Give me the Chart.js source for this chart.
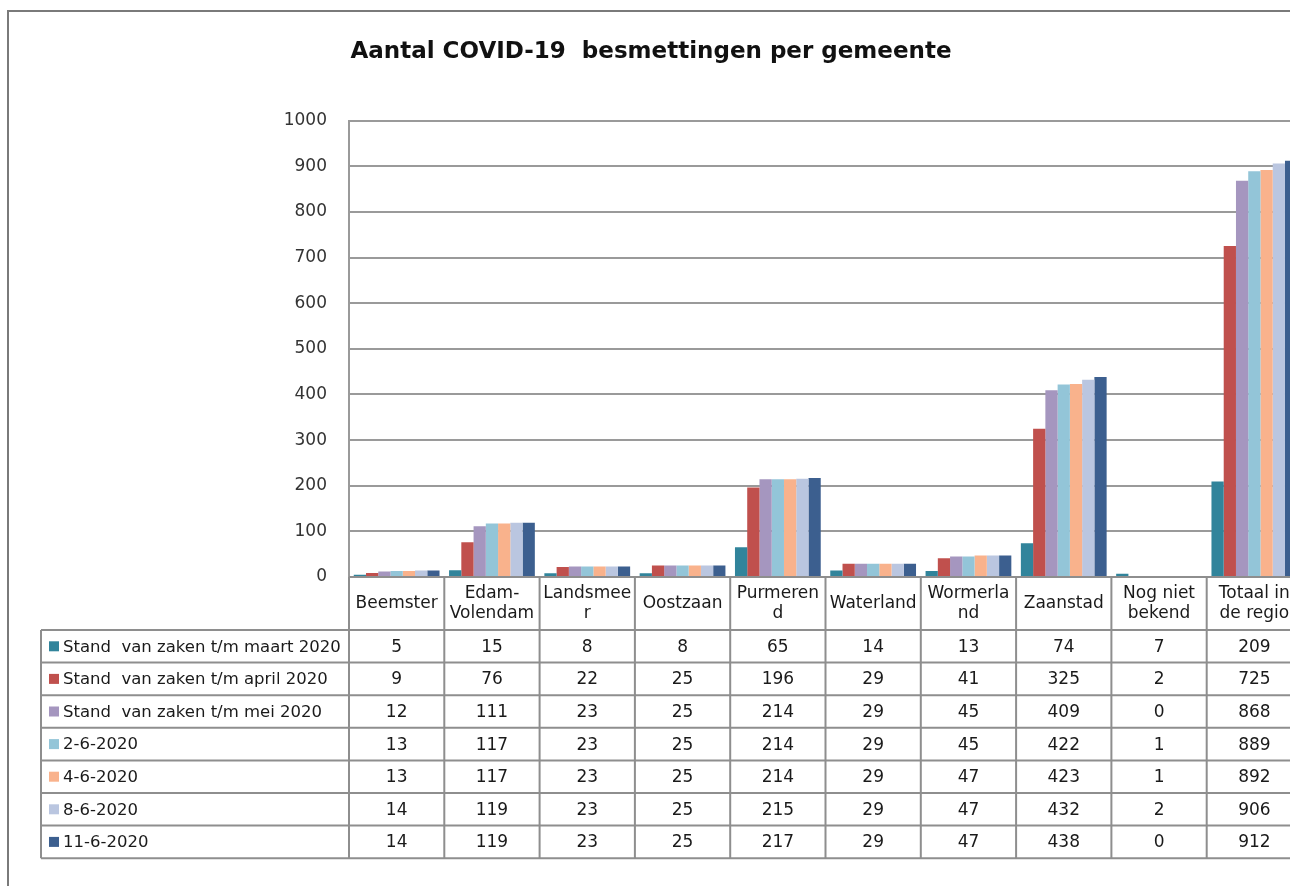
<!DOCTYPE html>
<html>
<head>
<meta charset="utf-8">
<title>Aantal COVID-19 besmettingen per gemeente</title>
<script src="https://cdn.jsdelivr.net/npm/chart.js@4/dist/chart.umd.min.js"></script>
<style>
    html, body { margin: 0; padding: 0; background: #fff; overflow: hidden; }
    #wrap { width: 1310px; height: 886px; }
</style>
</head>
<body>
<div id="wrap"><canvas id="chart" width="1310" height="886"></canvas></div>
<script>
// Gemeenten (with the line breaks as they appear in the data table)
const categories = [
    ['Beemster'], ['Edam-', 'Volendam'], ['Landsmee', 'r'], ['Oostzaan'],
    ['Purmeren', 'd'], ['Waterland'], ['Wormerla', 'nd'], ['Zaanstad'],
    ['Nog niet', 'bekend'], ['Totaal in', 'de regio']
];

const seriesNames = [
    'Stand  van zaken t/m maart 2020',
    'Stand  van zaken t/m april 2020',
    'Stand  van zaken t/m mei 2020',
    '2-6-2020',
    '4-6-2020',
    '8-6-2020',
    '11-6-2020'
];

const maart   = [5, 15, 8, 8, 65, 14, 13, 74, 7, 209];
const april   = [9, 76, 22, 25, 196, 29, 41, 325, 2, 725];
const mei     = [12, 111, 23, 25, 214, 29, 45, 409, 0, 868];
const juni2   = [13, 117, 23, 25, 214, 29, 45, 422, 1, 889];
const juni4   = [13, 117, 23, 25, 214, 29, 47, 423, 1, 892];
const juni8   = [14, 119, 23, 25, 215, 29, 47, 432, 2, 906];
const juni11  = [14, 119, 23, 25, 217, 29, 47, 438, 0, 912];

const yTicks = [0, 100, 200, 300, 400, 500, 600, 700, 800, 900, 1000];
const yTickLabels = ['0', '100', '200', '300', '400', '500', '600', '700', '800', '900', '1000'];

const colors = ['#31849B', '#C0504D', '#A596BF', '#93C5D8', '#F9B28C', '#BAC6E0', '#3C5F8F'];

const seriesValues = [maart, april, mei, juni2, juni4, juni8, juni11];

// Excel-like grey lines
const LINE = '#8e8e8e';
const CELL_FONT = '17px "DejaVu Sans", sans-serif';
const LEGEND_FONT = '16.5px "DejaVu Sans", sans-serif';

// Outer chart frame (top + left border of the embedded object)
const framePlugin = {
    id: 'frame',
    beforeDraw(chart) {
        const ctx = chart.ctx;
        ctx.save();
        ctx.fillStyle = '#fff';
        ctx.fillRect(0, 0, chart.width, chart.height);
        ctx.strokeStyle = '#7a7a7a';
        ctx.lineWidth = 2;
        ctx.beginPath();
        ctx.moveTo(8, chart.height + 5);
        ctx.lineTo(8, 11);
        ctx.lineTo(chart.width + 5, 11);
        ctx.stroke();
        ctx.restore();
    }
};

// Data table under the plot, columns taken from the x scale
const dataTablePlugin = {
    id: 'dataTable',
    afterDraw(chart) {
        const ctx = chart.ctx;
        const xs = chart.scales.x;
        const area = chart.chartArea;
        const n = chart.data.labels.length;
        const colW = (area.right - area.left) / n;
        const headTop = area.bottom;
        const headBottom = headTop + 53;
        const rowH = 32.6;
        const nRows = chart.data.datasets.length;
        const tableBottom = headBottom + rowH * nRows;
        const legendLeft = 41;

        ctx.save();
        ctx.strokeStyle = LINE;
        ctx.lineWidth = 2;

        // horizontal lines
        ctx.beginPath();
        ctx.moveTo(area.left, headTop);
        ctx.lineTo(area.right, headTop);
        for (let r = 0; r <= nRows; r++) {
            const y = headBottom + r * rowH;
            ctx.moveTo(legendLeft, y);
            ctx.lineTo(area.right, y);
        }
        // vertical lines
        ctx.moveTo(legendLeft, headBottom);
        ctx.lineTo(legendLeft, tableBottom);
        for (let i = 0; i <= n; i++) {
            const x = area.left + i * colW;
            ctx.moveTo(x, headTop);
            ctx.lineTo(x, tableBottom);
        }
        ctx.stroke();

        ctx.font = CELL_FONT;
        ctx.fillStyle = '#1a1a1a';
        ctx.textAlign = 'center';
        ctx.textBaseline = 'middle';

        // category header
        chart.data.labels.forEach((lab, i) => {
            const cx = xs.getPixelForValue(i);
            const mid = (headTop + headBottom) / 2;
            if (lab.length === 1) {
                ctx.fillText(lab[0], cx, mid);
            } else {
                ctx.fillText(lab[0], cx, mid - 10);
                ctx.fillText(lab[1], cx, mid + 10);
            }
        });

        // rows: legend key + name + values
        chart.data.datasets.forEach((ds, r) => {
            const cy = headBottom + r * rowH + rowH / 2;
            ctx.fillStyle = ds.backgroundColor;
            ctx.fillRect(legendLeft + 8, cy - 5, 10, 10);
            ctx.fillStyle = '#1a1a1a';
            ctx.textAlign = 'left';
            ctx.font = LEGEND_FONT;
            ctx.fillText(ds.label, legendLeft + 22, cy + 1);
            ctx.textAlign = 'center';
            ctx.font = CELL_FONT;
            ds.data.forEach((v, i) => {
                ctx.fillText(String(v), xs.getPixelForValue(i), cy + 1);
            });
        });
        ctx.restore();
    }
};

const ctx = document.getElementById('chart').getContext('2d');

new Chart(ctx, {
    type: 'bar',
    data: {
        labels: categories,
        datasets: seriesValues.map((vals, k) => ({
            label: seriesNames[k],
            data: vals,
            backgroundColor: colors[k],
            borderWidth: 0,
            categoryPercentage: 0.9,
            barPercentage: 1.0
        }))
    },
    options: {
        responsive: false,
        animation: false,
        layout: {
            padding: { left: 0, right: 8, top: 0, bottom: 309 }
        },
        plugins: {
            legend: { display: false },
            tooltip: { enabled: false },
            title: {
                display: true,
                text: 'Aantal COVID-19  besmettingen per gemeente',
                color: '#111',
                font: { family: '"DejaVu Sans", sans-serif', size: 23, weight: 'bold', lineHeight: 1.2 },
                padding: { top: 38, bottom: 55 }
            }
        },
        scales: {
            x: {
                display: false
            },
            y: {
                min: 0,
                max: 1000,
                afterBuildTicks: (scale) => {
                    scale.ticks = yTicks.map(v => ({ value: v }));
                },
                afterFit: (scale) => {
                    scale.width = 349;
                },
                grid: {
                    color: '#9a9a9a',
                    lineWidth: 2,
                    drawTicks: false
                },
                border: { color: '#9a9a9a', width: 2 },
                ticks: {
                    color: '#333',
                    padding: 22,
                    font: { family: '"DejaVu Sans", sans-serif', size: 17 },
                    callback: (value, index) => yTickLabels[index]
                }
            }
        }
    },
    plugins: [framePlugin, dataTablePlugin]
});
</script>
</body>
</html>
